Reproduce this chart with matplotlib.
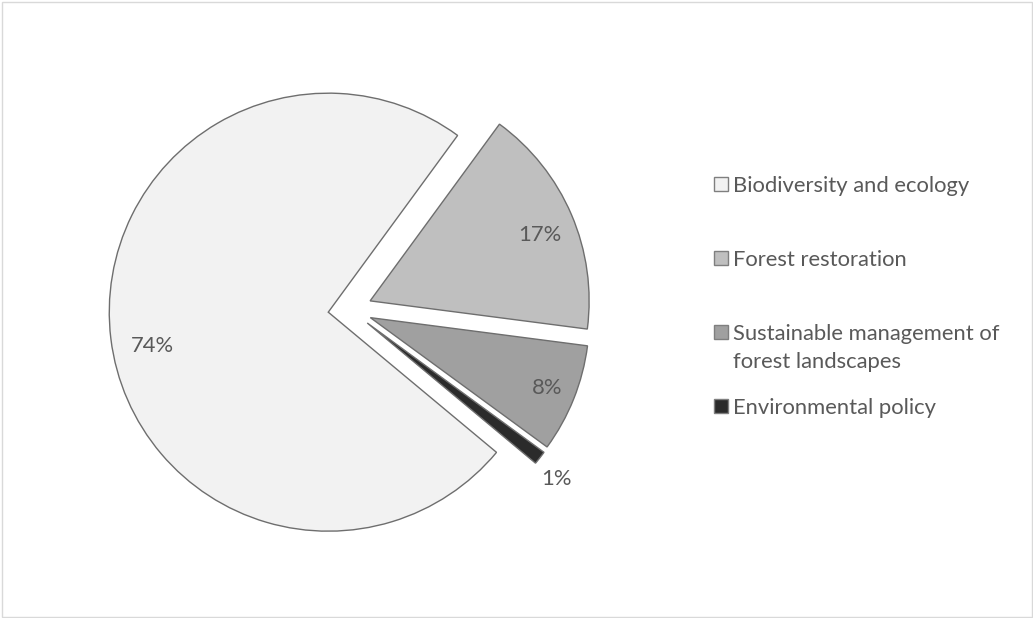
import matplotlib
matplotlib.use("Agg")
import matplotlib.pyplot as plt
from matplotlib.patches import Rectangle
import numpy as np

categories = ["Biodiversity and ecology", "Forest restoration",
              "Sustainable management of\nforest landscapes", "Environmental policy"]
values = [74, 17, 8, 1]
colors = ["#F2F2F2", "#BFBFBF", "#A0A0A0", "#2B2B2B"]

plt.rcParams['font.family'] = ['Lato', 'DejaVu Sans']
TXT = "#595959"
EDGE = "#6E6E6E"
FS = 15.8

W, H = 1033, 618
fig = plt.figure(figsize=(W / 100, H / 100), dpi=100)
fig.patch.set_facecolor("white")

# frame
fig.patches.append(Rectangle((1.5 / W, 1.5 / H), (W - 3) / W, (H - 3) / H,
                             transform=fig.transFigure, fill=False,
                             edgecolor="#D9D9D9", linewidth=1.0))

R_PX = 219.0
cx, cy = 350.0, H - 309.5
half = 300.0
ax = fig.add_axes([(cx - half) / W, (cy - half) / H, 2 * half / W, 2 * half / H])

wedges, texts, autotexts = ax.pie(
    values, colors=colors, startangle=-39.8, counterclock=False,
    explode=[0.1] * len(values), autopct=lambda p: f"{p:.0f}%",
    pctdistance=0.83,
    wedgeprops=dict(edgecolor=EDGE, linewidth=1.0),
    textprops=dict(color=TXT, fontsize=FS))

# label placement (Excel "best fit" style): radius fraction and angle offset
lab_r = [0.82, 0.83, 0.87, 1.12]
lab_da = [4.0, -2.0, 0.0, -1.4]
for w, t, rr, da in zip(wedges, autotexts, lab_r, lab_da):
    mid = np.deg2rad((w.theta1 + w.theta2) / 2 + da)
    x0, y0 = w.center
    t.set_position((x0 + rr * np.cos(mid), y0 + rr * np.sin(mid)))
    t.set_ha("center")
    t.set_va("center")

lim = half / R_PX
ax.set_xlim(-lim, lim)
ax.set_ylim(-lim, lim)
ax.set_aspect("equal")
ax.axis("off")

# legend (manual, Excel-style layout)
leg_y = [184, 258, 332, 406]
sq = 14
for lab, col, y in zip(categories, colors, leg_y):
    fig.patches.append(Rectangle((713.5 / W, (H - y - sq / 2) / H), sq / W, sq / H,
                                 transform=fig.transFigure, facecolor=col,
                                 edgecolor="#7F7F7F", linewidth=1.0))
    fig.text(733 / W, (H - y + 8) / H, lab, color=TXT, fontsize=FS,
             va="top", ha="left", linespacing=1.52,
             transform=fig.transFigure)

fig.savefig("out.png", dpi=100, facecolor="white")
